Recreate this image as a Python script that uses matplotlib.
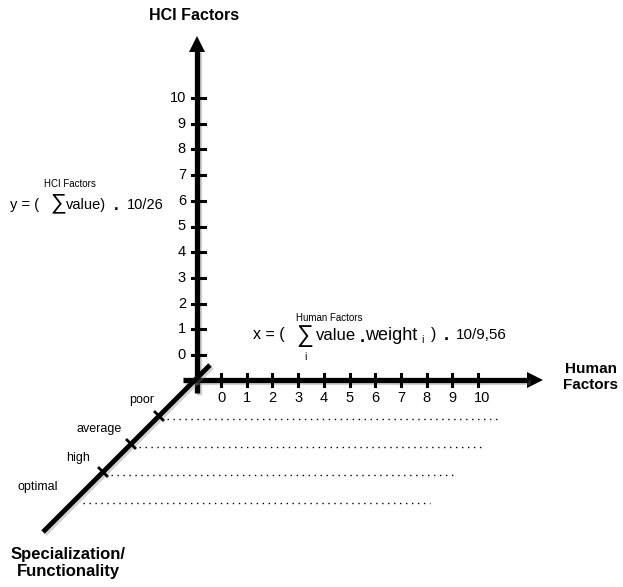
import matplotlib.pyplot as plt
import matplotlib.patheffects as pe

plt.rcParams['font.family'] = ['Liberation Sans', 'DejaVu Sans']

# data
hci_ticks = [0, 1, 2, 3, 4, 5, 6, 7, 8, 9, 10]
human_ticks = [0, 1, 2, 3, 4, 5, 6, 7, 8, 9, 10]
spec_levels = ['poor', 'average', 'high', 'optimal']
dotted_len = [10, 9.25, 8.25, 7.25]   # extent of the dotted guide lines, in x units

# pixel layout
ox, oy = 197, 380          # origin
y0, ystep = 355, 25.7      # position of hci value 0 and step
x0, xstep = 221, 25.7      # position of human value 0 and step
dstep = 28                 # step along diagonal

def ypos(v):
    return y0 - v * ystep

def xpos(v):
    return x0 + v * xstep

fig = plt.figure(figsize=(6.23, 5.87), dpi=100)
ax = fig.add_axes([0, 0, 1, 1])
ax.set_xlim(0, 623)
ax.set_ylim(587, 0)
ax.axis('off')

shadow = [pe.SimpleLineShadow(offset=(1.5, -1.5), shadow_color='gray', alpha=0.35), pe.Normal()]

# vertical axis
ax.plot([ox, ox], [393, 50], color='black', lw=3.8, solid_capstyle='butt', path_effects=shadow)
ax.fill([ox - 8, ox + 8, ox], [52, 52, 36], color='black', lw=0)
# horizontal axis
ax.plot([183, 528], [oy, oy], color='black', lw=3.8, solid_capstyle='butt', path_effects=shadow)
ax.fill([527, 527, 543], [oy - 8, oy + 8, oy], color='black', lw=0)
# diagonal axis
ax.plot([43, 210], [532, 365], color='black', lw=3.5, solid_capstyle='butt', path_effects=shadow)

# hci ticks
for v in hci_ticks:
    y = ypos(v)
    ax.plot([ox - 5, ox + 8], [y, y], color='black', lw=2.2)
    ax.text(186, y, str(v), ha='right', va='center', fontsize=10.5)

# human ticks
for v in human_ticks:
    x = xpos(v)
    ax.plot([x, x], [oy - 6, oy + 6], color='black', lw=2.2)
    ax.text(x + (4 if v == 10 else 0), 398, str(v), ha='center', va='center', fontsize=10.5)

# diagonal ticks, labels and dotted guides
for k, lab in enumerate(spec_levels):
    d = 36 + k * dstep
    tx, ty = ox - 2 - d, oy + d
    if k < 3:
        ax.plot([tx - 4, tx + 4], [ty - 4, ty + 4], color='black', lw=2)
    ax.text(tx - 5 - 4 * k, ty - 16 + k, lab, ha='right', va='center', fontsize=9)
    ax.plot([tx + 8, xpos(dotted_len[k]) + 23], [ty + 3, ty + 3], color='black',
            lw=1, linestyle=(0, (1, 3.3)))

# axis titles
ax.text(194, 15, 'HCI Factors', ha='center', va='center', fontsize=11.5, fontweight='bold')
ax.text(591, 377, 'Human\nFactors', ha='center', va='center', fontsize=11,
        fontweight='bold', linespacing=1.1)
ax.text(68, 563, 'Specialization/\nFunctionality', ha='center', va='center', fontsize=12,
        fontweight='bold', linespacing=1.1)

# y formula
ax.text(10, 205, 'y = (', ha='left', va='center', fontsize=10.5)
ax.text(50, 203, '\u2211', ha='left', va='center', fontsize=16)
ax.text(66, 205, 'value)', ha='left', va='center', fontsize=10.5)
ax.text(116, 206, '.', ha='center', va='center', fontsize=12, fontweight='bold')
ax.text(127, 205, '10/26', ha='left', va='center', fontsize=10.5)
ax.text(70, 184, 'HCI Factors', ha='center', va='center', fontsize=7)

# x formula
ax.text(253, 335, 'x = (', ha='left', va='center', fontsize=11.5)
ax.text(296, 336, '\u2211', ha='left', va='center', fontsize=17)
ax.text(316, 335, 'value', ha='left', va='center', fontsize=12)
ax.text(362, 337, '.', ha='center', va='center', fontsize=13, fontweight='bold')
ax.text(365, 335, 'weight', ha='left', va='center', fontsize=13)
ax.text(421, 340, 'i', ha='left', va='center', fontsize=7.5)
ax.text(431, 335, ')', ha='left', va='center', fontsize=11.5)
ax.text(446, 336, '.', ha='center', va='center', fontsize=13, fontweight='bold')
ax.text(456, 335, '10/9,56', ha='left', va='center', fontsize=11)
ax.text(329, 318, 'Human Factors', ha='center', va='center', fontsize=7)
ax.text(305, 357, 'i', ha='center', va='center', fontsize=7.5)

fig.savefig('out.png', dpi=100)
